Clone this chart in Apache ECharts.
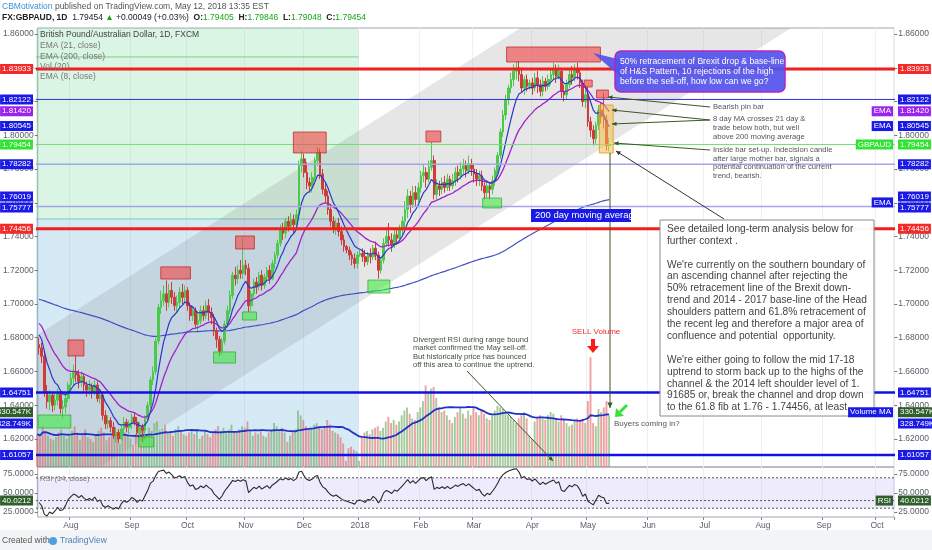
<!DOCTYPE html>
<html><head><meta charset="utf-8">
<script src="https://cdn.jsdelivr.net/npm/echarts@6/dist/echarts.min.js"></script>
<style>html,body{margin:0;padding:0;background:#fff;}#c{width:932px;height:550px;}</style>
</head><body><div id="c"></div>
<script>
// ---------------- DATA ----------------
const startDate = '2017-07-14';
const totalBars = 323; // trading days shown on the time axis (incl. empty future space)
// [open, close, low, high] daily GBPAUD (FXCM)
const candles = [
[1.6760,1.6740,1.6700,1.6800],[1.6740,1.6690,1.6650,1.6770],[1.6690,1.6480,1.6450,1.6710],[1.6480,1.6420,1.6380,1.6520],
[1.6420,1.6460,1.6370,1.6490],[1.6460,1.6400,1.6360,1.6480],[1.6400,1.6430,1.6370,1.6470],[1.6430,1.6470,1.6400,1.6500],
[1.6470,1.6380,1.6350,1.6490],[1.6380,1.6390,1.6320,1.6430],[1.6390,1.6440,1.6350,1.6460],[1.6440,1.6520,1.6420,1.6540],
[1.6520,1.6560,1.6490,1.6590],[1.6560,1.6600,1.6520,1.6640],[1.6600,1.6580,1.6540,1.6690],[1.6580,1.6540,1.6500,1.6610],
[1.6540,1.6570,1.6510,1.6600],[1.6570,1.6520,1.6480,1.6590],[1.6520,1.6490,1.6450,1.6540],[1.6490,1.6510,1.6460,1.6550],
[1.6510,1.6480,1.6440,1.6530],[1.6480,1.6520,1.6460,1.6550],[1.6520,1.6440,1.6420,1.6540],[1.6440,1.6460,1.6410,1.6500],
[1.6460,1.6340,1.6310,1.6480],[1.6340,1.6290,1.6260,1.6370],[1.6290,1.6310,1.6260,1.6340],[1.6310,1.6270,1.6240,1.6330],
[1.6270,1.6220,1.6200,1.6300],[1.6220,1.6240,1.6180,1.6270],[1.6240,1.6200,1.6175,1.6260],[1.6200,1.6260,1.6190,1.6280],
[1.6260,1.6300,1.6230,1.6330],[1.6300,1.6270,1.6240,1.6320],[1.6270,1.6290,1.6230,1.6310],
[1.6290,1.6330,1.6260,1.6350],[1.6330,1.6300,1.6280,1.6360],[1.6300,1.6240,1.6210,1.6330],[1.6240,1.6270,1.6220,1.6300],
[1.6270,1.6250,1.6180,1.6290],[1.6250,1.6320,1.6190,1.6340],[1.6320,1.6400,1.6300,1.6420],[1.6400,1.6550,1.6380,1.6570],
[1.6550,1.6600,1.6520,1.6630],[1.6600,1.6780,1.6580,1.6800],[1.6780,1.6980,1.6760,1.7000],[1.6980,1.7020,1.6940,1.7080],
[1.7020,1.7060,1.6990,1.7110],[1.7060,1.7010,1.6960,1.7140],[1.7010,1.7080,1.6980,1.7120],[1.7080,1.7040,1.7000,1.7130],
[1.7040,1.6990,1.6960,1.7070],[1.6990,1.7010,1.6950,1.7050],[1.7010,1.7070,1.6980,1.7100],[1.7070,1.7040,1.7000,1.7120],
[1.7040,1.7080,1.7010,1.7110],
[1.7080,1.6990,1.6960,1.7100],[1.6990,1.6930,1.6900,1.7010],[1.6930,1.6960,1.6900,1.6990],[1.6960,1.6880,1.6860,1.6980],
[1.6880,1.6900,1.6840,1.6940],[1.6900,1.6960,1.6880,1.6990],[1.6960,1.6930,1.6900,1.6990],[1.6930,1.6990,1.6910,1.7020],
[1.6990,1.6950,1.6900,1.7030],[1.6950,1.6920,1.6880,1.6980],[1.6920,1.6840,1.6810,1.6940],[1.6840,1.6790,1.6740,1.6860],
[1.6790,1.6720,1.6690,1.6810],[1.6720,1.6780,1.6700,1.6800],[1.6780,1.6880,1.6760,1.6900],[1.6880,1.6960,1.6860,1.6990],
[1.6960,1.7050,1.6940,1.7080],[1.7050,1.7170,1.7030,1.7190],[1.7170,1.7150,1.7110,1.7220],[1.7150,1.7200,1.7120,1.7230],
[1.7200,1.7180,1.7150,1.7260],[1.7180,1.7230,1.7150,1.7390],
[1.7230,1.7210,1.7170,1.7260],[1.7210,1.6990,1.6950,1.7240],[1.6990,1.7060,1.6960,1.7080],[1.7060,1.7130,1.7040,1.7150],
[1.7130,1.7100,1.7060,1.7160],[1.7100,1.7170,1.7080,1.7190],[1.7170,1.7110,1.7080,1.7200],[1.7110,1.7160,1.7090,1.7180],
[1.7160,1.7200,1.7130,1.7220],[1.7200,1.7150,1.7120,1.7230],[1.7150,1.7240,1.7140,1.7260],[1.7240,1.7290,1.7210,1.7310],
[1.7290,1.7360,1.7270,1.7380],[1.7360,1.7440,1.7340,1.7470],[1.7440,1.7420,1.7380,1.7480],[1.7420,1.7490,1.7390,1.7510],
[1.7490,1.7460,1.7430,1.7520],[1.7460,1.7500,1.7440,1.7540],[1.7500,1.7470,1.7420,1.7530],[1.7470,1.7530,1.7450,1.7560],
[1.7530,1.7820,1.7520,1.7850],[1.7820,1.7860,1.7780,1.7910],
[1.7860,1.7780,1.7750,1.7890],[1.7780,1.7720,1.7680,1.7840],[1.7720,1.7700,1.7660,1.7750],[1.7700,1.7750,1.7660,1.7780],
[1.7750,1.7850,1.7730,1.7870],[1.7850,1.7900,1.7820,1.7930],[1.7900,1.7770,1.7740,1.7920],[1.7770,1.7680,1.7650,1.7800],
[1.7680,1.7640,1.7600,1.7720],[1.7640,1.7560,1.7530,1.7670],[1.7560,1.7490,1.7460,1.7590],[1.7490,1.7450,1.7420,1.7520],
[1.7450,1.7480,1.7410,1.7500],[1.7480,1.7430,1.7400,1.7510],[1.7430,1.7380,1.7350,1.7460],[1.7380,1.7340,1.7310,1.7410],
[1.7340,1.7320,1.7300,1.7350],[1.7320,1.7290,1.7260,1.7340],[1.7290,1.7270,1.7230,1.7310],[1.7270,1.7240,1.7210,1.7300],
[1.7240,1.7290,1.7210,1.7310],
[1.7290,1.7300,1.7280,1.7320],[1.7300,1.7280,1.7250,1.7330],[1.7280,1.7250,1.7220,1.7320],[1.7250,1.7290,1.7230,1.7310],
[1.7290,1.7280,1.7240,1.7330],[1.7280,1.7330,1.7260,1.7350],[1.7330,1.7290,1.7260,1.7370],[1.7290,1.7200,1.7150,1.7310],
[1.7200,1.7260,1.7180,1.7280],[1.7260,1.7360,1.7240,1.7390],[1.7360,1.7400,1.7340,1.7440],[1.7400,1.7380,1.7340,1.7480],
[1.7380,1.7350,1.7310,1.7420],[1.7350,1.7410,1.7330,1.7440],[1.7410,1.7390,1.7350,1.7450],[1.7390,1.7440,1.7370,1.7470],
[1.7440,1.7490,1.7410,1.7520],[1.7490,1.7560,1.7450,1.7610],[1.7560,1.7640,1.7510,1.7680],[1.7640,1.7590,1.7540,1.7670],
[1.7590,1.7660,1.7570,1.7700],[1.7660,1.7620,1.7580,1.7700],[1.7620,1.7690,1.7600,1.7720],
[1.7690,1.7760,1.7660,1.7790],[1.7760,1.7780,1.7720,1.7830],[1.7780,1.7740,1.7690,1.7810],[1.7740,1.7810,1.7720,1.7850],
[1.7810,1.7850,1.7790,1.7960],[1.7850,1.7650,1.7620,1.7880],[1.7650,1.7700,1.7620,1.7740],[1.7700,1.7680,1.7640,1.7730],
[1.7680,1.7720,1.7650,1.7750],[1.7720,1.7690,1.7660,1.7760],[1.7690,1.7740,1.7670,1.7770],[1.7740,1.7700,1.7670,1.7760],
[1.7700,1.7730,1.7680,1.7770],[1.7730,1.7780,1.7700,1.7810],[1.7780,1.7760,1.7720,1.7820],[1.7760,1.7800,1.7740,1.7840],
[1.7800,1.7820,1.7770,1.7860],[1.7820,1.7790,1.7750,1.7850],[1.7790,1.7830,1.7770,1.7880],[1.7830,1.7800,1.7760,1.7860],
[1.7800,1.7770,1.7720,1.7830],[1.7770,1.7740,1.7700,1.7800],[1.7740,1.7760,1.7700,1.7790],[1.7760,1.7700,1.7670,1.7790],
[1.7700,1.7660,1.7620,1.7720],[1.7660,1.7700,1.7630,1.7720],[1.7700,1.7680,1.7620,1.7720],[1.7680,1.7730,1.7650,1.7760],
[1.7730,1.7790,1.7700,1.7810],[1.7790,1.7880,1.7770,1.7900],[1.7880,1.8020,1.7860,1.8040],[1.8020,1.8120,1.7990,1.8150],
[1.8120,1.8210,1.8090,1.8240],[1.8210,1.8280,1.8180,1.8300],[1.8280,1.8330,1.8250,1.8370],[1.8330,1.8380,1.8290,1.8420],
[1.8380,1.8400,1.8330,1.8440],[1.8400,1.8360,1.8320,1.8440],[1.8360,1.8280,1.8250,1.8400],[1.8280,1.8330,1.8240,1.8350],
[1.8330,1.8290,1.8260,1.8360],[1.8290,1.8310,1.8270,1.8330],
[1.8310,1.8280,1.8240,1.8340],[1.8280,1.8340,1.8260,1.8370],[1.8340,1.8300,1.8250,1.8380],[1.8300,1.8260,1.8230,1.8330],
[1.8260,1.8320,1.8230,1.8350],[1.8320,1.8290,1.8260,1.8340],[1.8290,1.8330,1.8270,1.8360],[1.8330,1.8360,1.8300,1.8390],
[1.8360,1.8390,1.8330,1.8430],[1.8390,1.8350,1.8310,1.8420],[1.8350,1.8380,1.8330,1.8420],[1.8380,1.8260,1.8220,1.8400],
[1.8260,1.8240,1.8200,1.8300],[1.8240,1.8300,1.8210,1.8330],[1.8300,1.8360,1.8280,1.8390],[1.8360,1.8340,1.8300,1.8410],
[1.8340,1.8390,1.8320,1.8420],[1.8390,1.8370,1.8330,1.8430],[1.8370,1.8310,1.8280,1.8400],[1.8310,1.8200,1.8170,1.8330],
[1.8200,1.8240,1.8160,1.8290],
[1.8240,1.8080,1.8050,1.8290],[1.8080,1.8030,1.7990,1.8110],[1.8030,1.7980,1.7940,1.8060],[1.7980,1.8060,1.7950,1.8080],
[1.8060,1.8150,1.8030,1.8180],[1.8150,1.8110,1.8070,1.8190],[1.8110,1.8090,1.8040,1.8250],[1.8090,1.7940,1.7910,1.8120],
[1.79405,1.79454,1.79048,1.79846]
];
// daily volume, thousands
const volumeK = [
210,190,260,230,200,180,170,190,220,240,200,180,
210,230,260,220,170,200,240,190,180,160,210,230,250,220,170,190,200,230,210,150,190,220,200,
180,140,210,220,240,230,200,250,230,280,290,240,250,270,220,230,200,240,260,230,210,
200,220,230,210,240,180,200,230,210,190,220,240,260,230,250,220,240,270,230,220,240,260,
250,290,230,200,220,210,230,200,190,220,240,280,260,230,250,220,160,200,230,240,360,330,
300,260,240,250,270,280,250,240,260,300,270,230,220,210,190,150,40,120,130,110,100,
40,190,220,230,210,240,250,260,230,250,290,320,280,300,270,290,330,360,380,340,310,300,350,
380,420,520,480,500,510,440,380,350,360,330,300,280,320,350,380,340,310,360,330,
380,350,330,360,340,310,300,330,360,390,380,370,350,330,320,300,280,310,330,350,310,200,
180,290,320,330,310,300,330,350,340,310,290,330,300,280,260,270,300,310,290,300,280,
420,700,280,260,370,350,380,420,330
];
const emaFastLen = 8, emaMidLen = 21, emaSlowLen = 200, rsiLen = 14, volMaLen = 20;
const emaSeeds = {fast: 1.684, mid: 1.690, slow: 1.703};
const rsiSeed = {gain: 0.0012, loss: 0.0020};
const priceTicks = [1.62,1.64,1.66,1.68,1.70,1.72,1.74,1.76,1.78,1.80,1.82,1.84,1.86];
const rsiTicks = [25,50,75];
// drawings (data coordinates: [barIndex, price])
const channelUpper = [[-20,1.6624],[340,2.0217]];
const channelLower = [[-20,1.5606],[340,1.9199]];
const redBoxes = [[10.9,16.9,1.6787,1.6692],[45.9,57.1,1.7220,1.7148],[74.1,81.2,1.7403,1.7326],[95.9,108.3,1.8019,1.7895],
 [145.9,151.5,1.8025,1.7960],[176.3,211.7,1.8523,1.8434],[205.6,208.6,1.8327,1.8286],[210.2,214.7,1.8268,1.8221]];
const greenBoxes = [[-0.4,12,1.6342,1.6265],[37.6,43.2,1.6212,1.6153],[65.8,74.1,1.6716,1.6650],[76.7,82,1.6953,1.6905],
 [124,132.3,1.7142,1.7065],[167.3,174.4,1.7628,1.7569]];
const highlightBox = [211.3,216.5,1.8179,1.7895];
const levels = [ // price, colour, width
 [1.83933,'#f21d1d',3],[1.82122,'#3030d8',1],[1.78282,'#a4a4ea',1.5],[1.75777,'#a4a4ea',1.5],
 [1.74456,'#f21d1d',3],[1.64751,'#1212e0',2.5],[1.61057,'#1212e0',2.5]];
const lastPrice = 1.79454, emaFastLast = 1.80545, emaMidLast = 1.81420, emaSlowLast = 1.76019;
const volLast = 330.547, volMaLast = 328.749, rsiLast = 40.0212;

// ---------------- DERIVED ----------------
const monthNames = ['Jan','Feb','Mar','Apr','May','Jun','Jul','Aug','Sep','Oct','Nov','Dec'];
const dates = [];
{ let d = new Date(startDate + 'T12:00:00Z');
  while (dates.length < totalBars) { const w = d.getUTCDay(); if (w !== 0 && w !== 6) dates.push(d.toISOString().slice(0,10)); d = new Date(d.getTime() + 86400000); } }
const isMonthStart = i => i > 0 && dates[i].slice(0,7) !== dates[i-1].slice(0,7);
const closes = candles.map(c => c[1]);
function ema(vals, n, seed){ const a = 2/(n+1); let e = seed; return vals.map(v => +(e = a*v + (1-a)*e).toFixed(5)); }
const emaFast = ema(closes, emaFastLen, emaSeeds.fast);
const emaMid = ema(closes, emaMidLen, emaSeeds.mid);
const emaSlow = ema(closes, emaSlowLen, emaSeeds.slow);
const rsi = []; { let ag = rsiSeed.gain, al = rsiSeed.loss;
  closes.forEach((c,i) => { const ch = i ? c - closes[i-1] : 0;
    ag = (ag*(rsiLen-1) + Math.max(ch,0))/rsiLen; al = (al*(rsiLen-1) + Math.max(-ch,0))/rsiLen;
    rsi.push(+(100 - 100/(1+ag/al)).toFixed(2)); }); }
const volMa = volumeK.map((v,i) => { const s = volumeK.slice(Math.max(0,i-volMaLen+1), i+1); return +(s.reduce((a,b)=>a+b,0)/s.length).toFixed(1); });
const UP = '#4cc84c', DOWN = '#cf3b3b';
const volData = volumeK.map((v,i) => ({value: v, itemStyle: {color: candles[i][1] >= candles[i][0] ? 'rgba(110,170,95,0.62)' : 'rgba(226,104,104,0.62)'}}));

// ---------------- CHART ----------------
const FONT = 'Liberation Sans, Arial, sans-serif';
const chart = echarts.init(document.getElementById('c'));
const axisLbl = {color:'#5d606b', fontSize:8.5, fontFamily:FONT};
const priceAxis = pos => ({type:'value', gridIndex:0, position:pos, min:1.603407, max:1.863556, scale:true,
  axisLine:{show:false}, splitLine:{show:false},
  axisTick:{show:true, length:3, customValues:priceTicks, lineStyle:{color:'#777'}},
  axisLabel:Object.assign({customValues:priceTicks, margin:4, formatter:v=>v.toFixed(5)}, axisLbl)});
const rsiAxis = pos => ({type:'value', gridIndex:2, position:pos, min:18.4, max:84.2,
  axisLine:{show:false}, splitLine:{show:false},
  axisTick:{show:true, length:3, customValues:rsiTicks, lineStyle:{color:'#777'}},
  axisLabel:Object.assign({customValues:rsiTicks, margin:4, formatter:v=>v.toFixed(4)}, axisLbl)});
const catAxis = (gi, extra) => Object.assign({type:'category', gridIndex:gi, data:dates, boundaryGap:true,
  axisLine:{show:false}, axisTick:{show:false}, axisLabel:{show:false},
  splitLine:{show:true, interval:(i)=>isMonthStart(i), lineStyle:{color:'#eef0f3', width:1}}}, extra||{});

chart.setOption({
  animation:false,
  textStyle:{fontFamily:FONT},
  grid:[
    {left:36, right:37, top:28, height:439, show:true, borderColor:'#a3a7b0', borderWidth:1, backgroundColor:'transparent'},
    {left:36, right:37, top:28, height:439},
    {left:36, right:37, top:467, height:50, show:true, borderColor:'#a3a7b0', borderWidth:1}
  ],
  xAxis:[ catAxis(0), catAxis(1,{show:false}),
    catAxis(2,{axisTick:{show:true, length:3, interval:(i)=>isMonthStart(i), lineStyle:{color:'#888'}},
      axisLabel:{show:true, interval:(i)=>isMonthStart(i), color:'#5d606b', fontSize:8.5, fontFamily:FONT, margin:4,
        formatter:(v)=>{const m=+v.slice(5,7); return m===1 ? v.slice(0,4) : monthNames[m-1];}}}) ],
  yAxis:[ priceAxis('right'), priceAxis('left'),
    {type:'value', gridIndex:1, min:0, max:2800, show:false},
    rsiAxis('right'), rsiAxis('left') ],
  series:[
    {type:'bar', name:'Volume', xAxisIndex:1, yAxisIndex:2, data:volData, barWidth:'72%', z:1},
    {type:'line', name:'Volume MA', xAxisIndex:1, yAxisIndex:2, data:volMa, symbol:'none', z:2,
      lineStyle:{color:'#2033c8', width:1.8}},
    {type:'line', name:'EMA 200', xAxisIndex:0, yAxisIndex:0, data:emaSlow, symbol:'none', z:3,
      lineStyle:{color:'#4050c8', width:1.2}},
    {type:'candlestick', name:'GBPAUD', xAxisIndex:0, yAxisIndex:0, data:candles, barWidth:'82%', z:4,
      itemStyle:{color:UP, color0:DOWN, borderColor:UP, borderColor0:DOWN, borderWidth:1}},
    {type:'line', name:'EMA 21', xAxisIndex:0, yAxisIndex:0, data:emaMid, symbol:'none', z:5,
      lineStyle:{color:'#a221c8', width:1.3}},
    {type:'line', name:'EMA 8', xAxisIndex:0, yAxisIndex:0, data:emaFast, symbol:'none', z:5,
      lineStyle:{color:'#2a36cf', width:1.2}},
    {type:'line', name:'RSI', xAxisIndex:2, yAxisIndex:3, data:rsi, symbol:'none', z:5,
      lineStyle:{color:'#2a2a2a', width:1.1}}
  ]
});

// ---------------- DRAWINGS ----------------
const p0 = chart.convertToPixel({gridIndex:0},[0,1.7]);
const p1 = chart.convertToPixel({gridIndex:0},[100,1.7]);
const bw = (p1[0]-p0[0])/100;
const X = i => p0[0] + i*bw;
const Y = v => chart.convertToPixel({yAxisIndex:0}, v);
const YV = v => chart.convertToPixel({yAxisIndex:2}, v);
const YR = v => chart.convertToPixel({yAxisIndex:3}, v);
const GL=36, GR=895, GT=28, GB=467;
const g = [];
const rect = (x1,y1,x2,y2,fill,stroke,z,lw) => g.push({type:'rect', z:z, shape:{x:Math.min(x1,x2), y:Math.min(y1,y2), width:Math.abs(x2-x1), height:Math.abs(y2-y1)},
  style:{fill:fill, stroke:stroke||null, lineWidth:lw||1}});
const line = (x1,y1,x2,y2,color,w,z,dash) => g.push({type:'line', z:z, shape:{x1,y1,x2,y2}, style:{stroke:color, lineWidth:w, lineDash:dash||null}});
const text = (x,y,t,opt) => g.push({type:'text', z:opt.z||30, x:x, y:y, style:Object.assign({text:t, font:(opt.size||9)+'px '+FONT, fill:'#444', align:'left', verticalAlign:'middle'}, opt.style||{})});
function arrow(x1,y1,x2,y2,color,w,hs,z){
  line(x1,y1,x2,y2,color,w,z);
  const a = Math.atan2(y2-y1,x2-x1), s = hs||5;
  g.push({type:'polygon', z:z, shape:{points:[[x2,y2],[x2-s*Math.cos(a-0.45),y2-s*Math.sin(a-0.45)],[x2-s*Math.cos(a+0.45),y2-s*Math.sin(a+0.45)]]},
    style:{fill:color}});
}
function clipPoly(pts,xmin,ymin,xmax,ymax){
  const edges=[[p=>p[0]>=xmin,(a,b)=>{const t=(xmin-a[0])/(b[0]-a[0]);return [xmin,a[1]+t*(b[1]-a[1])];}],
    [p=>p[0]<=xmax,(a,b)=>{const t=(xmax-a[0])/(b[0]-a[0]);return [xmax,a[1]+t*(b[1]-a[1])];}],
    [p=>p[1]>=ymin,(a,b)=>{const t=(ymin-a[1])/(b[1]-a[1]);return [a[0]+t*(b[0]-a[0]),ymin];}],
    [p=>p[1]<=ymax,(a,b)=>{const t=(ymax-a[1])/(b[1]-a[1]);return [a[0]+t*(b[0]-a[0]),ymax];}]];
  let out=pts;
  edges.forEach(([inside,inter])=>{const inp=out; out=[]; for(let k=0;k<inp.length;k++){const cur=inp[k], prev=inp[(k+inp.length-1)%inp.length];
    if(inside(cur)){ if(!inside(prev)) out.push(inter(prev,cur)); out.push(cur);} else if(inside(prev)) out.push(inter(prev,cur)); }});
  return out;
}

// background zones (before 2018)
const zoneEnd = X(120)+bw/2, zoneSplit = Y(1.7504);
rect(GL,GT,zoneEnd,zoneSplit,'rgba(70,205,120,0.2)',null,0);
rect(GL,zoneSplit,zoneEnd,GB,'rgba(70,160,215,0.22)',null,0);
line(GL,zoneSplit,zoneEnd,zoneSplit,'rgba(90,185,170,0.7)',1,0);
line(GL,Y(1.8464),zoneEnd,Y(1.8464),'rgba(80,190,80,0.65)',1,0);
// channel
const cu = channelUpper.map(p=>[X(p[0]),Y(p[1])]), cl = channelLower.map(p=>[X(p[0]),Y(p[1])]);
g.push({type:'polygon', z:0, shape:{points:clipPoly([cu[0],cu[1],cl[1],cl[0]],GL,GT,GR,GB)}, style:{fill:'rgba(105,105,110,0.17)'}});
[cu,cl].forEach(c=>{ const pts=clipPoly([c[0],c[1],c[1]],GL,GT,GR,GB); if(pts.length>=2){ line(pts[0][0],pts[0][1],pts[pts.length-1][0],pts[pts.length-1][1],'#9a9ca3',1,6);} });
// horizontal levels
levels.forEach(([p,c,w])=>line(GL,Y(p),GR,Y(p),c,w,8));
line(GL,Y(lastPrice),GR,Y(lastPrice),'#6ee06e',1,8);
// boxes
redBoxes.forEach(b=>rect(X(b[0]),Y(b[2]),X(b[1]),Y(b[3]),'rgba(240,72,72,0.62)','rgba(190,40,40,0.75)',9));
greenBoxes.forEach(b=>rect(X(b[0]),Y(b[2]),X(b[1]),Y(b[3]),'rgba(55,235,55,0.55)','rgba(40,170,40,0.7)',9));
rect(X(highlightBox[0]),Y(highlightBox[2]),X(highlightBox[1]),Y(highlightBox[3]),'rgba(245,190,75,0.55)','rgba(225,160,50,0.9)',9);

// RSI band and levels
rect(GL,YR(70),GR,YR(30),'rgba(140,130,235,0.15)',null,0);
[70,40,30].forEach(v=>line(GL,YR(v),GR,YR(v),'#555',1,6,[2,2]));
text(40,YR(70)+1,'RSI (14, close)',{size:7.5,style:{fill:'#777'}});

// header & legend
g.push({type:'rect', z:0, shape:{x:0,y:530,width:932,height:20}, style:{fill:'#f3f4f6'}});
text(2,7,'{a|CBMotivation} published on TradingView.com, May 12, 2018 13:35 EST',{size:8.5,style:{fill:'#555',rich:{a:{fill:'#3d91d6',font:'8.5px '+FONT}}}});
text(2,18,'{b|FX:GBPAUD, 1D}  {n|1.79454} {g|▲} {n|+0.00049 (+0.03%)}  {b|O:}{g|1.79405}  {b|H:}{g|1.79846}  {b|L:}{g|1.79048}  {b|C:}{g|1.79454}',
  {size:8.5,style:{fill:'#222',rich:{b:{font:'bold 8.5px '+FONT,fill:'#222'},n:{font:'8.5px '+FONT,fill:'#222'},g:{font:'8.5px '+FONT,fill:'#1aa51a'}}}});
text(40,35,'British Pound/Australian Dollar, 1D, FXCM',{size:8.5,style:{fill:'#444'}});
text(40,46,'EMA (21, close)',{size:8.5,style:{fill:'#777'}});
text(40,57,'EMA (200, close)',{size:8.5,style:{fill:'#777'}});
text(40,67,'Vol (20)',{size:8.5,style:{fill:'#777'}});
text(40,77,'EMA (8, close)',{size:8.5,style:{fill:'#777'}});
text(2,541,'Created with',{size:8.5,style:{fill:'#555'}});
g.push({type:'circle', z:30, shape:{cx:53,cy:541,r:4}, style:{fill:'#4aa3df'}});
text(60,541,'TradingView',{size:8.5,style:{fill:'#4a7fb8'}});

// axis tags
const tag = (x,y,t,bg,align,fg) => text(x,y,t,{z:60,size:8,style:{fill:fg||'#fff',backgroundColor:bg,padding:[1,2,1,2],align:align}});
const tagDefs = [ // pixel y, label, colour, y-offset
 [Y(1.83933),'1.83933','#f42a2a',0],[Y(1.82122),'1.82122','#1a1ae8',0],[Y(emaMidLast),'1.81420','#9c22ee',0],
 [Y(emaFastLast),'1.80545','#1a1ae8',0],[Y(lastPrice),'1.79454','#33e333',0],[Y(1.78282),'1.78282','#1a1ae8',0],
 [Y(emaSlowLast),'1.76019','#1a1ae8',-6],[Y(1.75777),'1.75777','#1a1ae8',1],[Y(1.74456),'1.74456','#f42a2a',0],
 [Y(1.64751),'1.64751','#1a1ae8',0],[YV(volLast),'330.547K','#2f5e2c',-3],[YV(volMaLast),'328.749K','#1a1ae8',8],
 [Y(1.61057),'1.61057','#1a1ae8',0],[YR(rsiLast),'40.0212','#2f5e2c',0]];
tagDefs.forEach(([y,t,c,o])=>{ tag(33,y+o,t,c,'right'); tag(898,y+o,t,c,'left'); });
tag(893,Y(emaMidLast),'EMA','#9c22ee','right');
tag(893,Y(emaFastLast),'EMA','#1a1ae8','right');
tag(893,Y(lastPrice),'GBPAUD','#33e333','right');
tag(893,Y(emaSlowLast),'EMA','#1a1ae8','right');
tag(893,YV(volLast)-3,'Volume MA','#1a1ae8','right');
tag(893,YR(rsiLast),'RSI','#2f5e2c','right');

// annotations
const OL = '#3c5526';
g.push({type:'polygon', z:50, shape:{points:[[622,60],[593,53],[622,78]]}, style:{fill:'rgba(82,82,236,0.92)'}});
g.push({type:'rect', z:50, shape:{x:615,y:51,width:170,height:41,r:6}, style:{fill:'rgba(82,82,236,0.92)',stroke:'#b324c4',lineWidth:1.5}});
text(620,62,'50% retracement of Brexit drop & base-line',{z:51,size:8.6,style:{fill:'#fff'}});
text(620,72,'of H&S Pattern, 10 rejections of the high',{z:51,size:8.6,style:{fill:'#fff'}});
text(620,82,'before the sell-off, how low can we go?',{z:51,size:8.6,style:{fill:'#fff'}});

arrow(710,107,608,97,OL,1,5,45);
arrow(710,120,612,110,OL,1,5,45);
arrow(710,120,612,124,OL,1,5,45);
arrow(710,150,614,143,OL,1,5,45);
arrow(724,219,616,151,'#333',1,5,45);
arrow(610,153,610,408,OL,1,6,45);
const small = (x,y,t)=>text(x,y,t,{z:46,size:7.6,style:{fill:'#555'}});
small(713,107,'Bearish pin bar');
small(713,119,'8 day MA crosses 21 day &');
small(713,128,'trade below both, but well');
small(713,136.5,'above 200 moving average');
small(713,150,'Inside bar set-up. Indecision candle');
small(713,158.5,'after large mother bar, signals a');
small(713,167,'potential continuation of the current');
small(713,175.5,'trend, bearish.');

rect(531,209,631,222,'#1a1ae6',null,46);
text(535,215.8,'200 day moving average',{z:47,size:9.5,style:{fill:'#fff'}});

rect(660,220,874,416,'rgba(255,255,255,0.97)','#8a8a8a',50);
const boxLines = ["See detailed long-term analysis below for","further context .","",
 "We're currently on the southern boundary of","an ascending channel after rejecting the","50% retracement line of the Brexit down-",
 "trend and 2014 - 2017 base-line of the Head","shoulders pattern and 61.8% retracement of","the recent leg and therefore a major area of",
 "confluence and potential  opportunity.","","We're either going to follow the mid 17-18","uptrend to storm back up to the highs of the",
 "channel & the 2014 left shoulder level of 1.","91685 or, break the channel and drop down","to the 61.8 fib at 1.76 - 1.74456, at least."];
boxLines.forEach((t,k)=>{ if(t) text(667,229+k*11.9,t,{z:51,size:10.2,style:{fill:'#444'}}); });

const dv = ['Divergent RSI during range bound','market confirmed the May sell-off.','But historically price has bounced','off this area to continue the uptrend.'];
dv.forEach((t,k)=>text(413,340+k*8.4,t,{z:46,size:7.6,style:{fill:'#3f4f36'}}));
arrow(467,371,553,461,OL,1,5,45);

text(596,332,'SELL Volume',{z:46,size:8,style:{fill:'#ee2a2a',align:'center'}});
g.push({type:'polygon', z:46, shape:{points:[[591,339],[595,339],[595,346],[599,346],[593,353],[587,346],[591,346]]}, style:{fill:'#ff1c1c'}});
line(627,405,620,412,'#36e236',3,46);
g.push({type:'polygon', z:46, shape:{points:[[615,417],[616,408],[624,416]]}, style:{fill:'#36e236'}});
text(614,424,'Buyers coming in?',{z:46,size:8,style:{fill:'#555'}});

chart.setOption({graphic:g});
</script></body></html>
